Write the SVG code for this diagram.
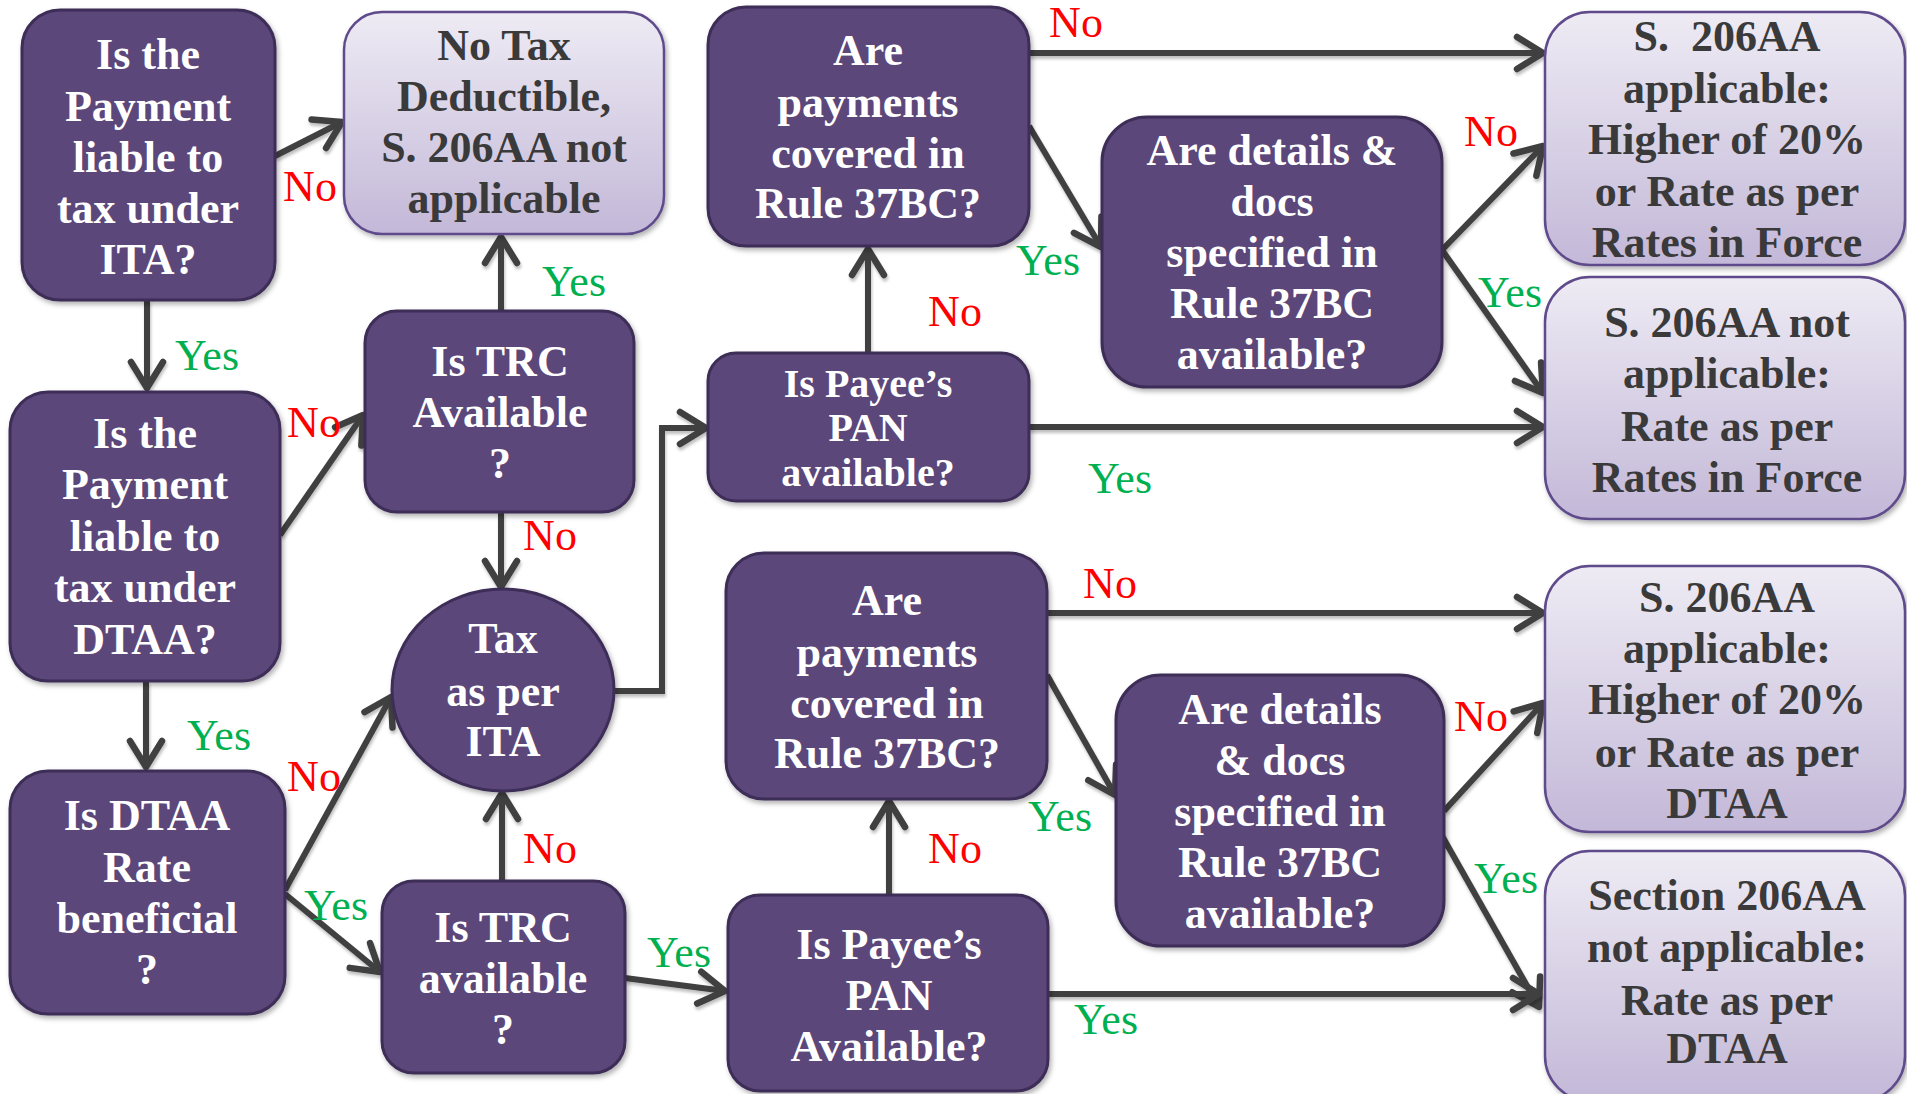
<svg xmlns="http://www.w3.org/2000/svg" width="1907" height="1094" viewBox="0 0 1907 1094">
<style>
.q rect, .q ellipse { fill:#5c477a; stroke:#3e2d58; stroke-width:3; filter:url(#sh); }
.t rect { fill:url(#lg); stroke:#5f4b8b; stroke-width:2.5; filter:url(#sh); }
.q text { fill:#ffffff; font-family:"Liberation Serif","DejaVu Serif",serif; font-weight:bold; font-size:44px; text-anchor:middle; dominant-baseline:central; }
.t text { fill:#3a3a3a; font-family:"Liberation Serif","DejaVu Serif",serif; font-weight:bold; font-size:44px; text-anchor:middle; dominant-baseline:central; }
.small text { font-size:40px; }
#connectors path { fill:none; stroke:#404040; stroke-width:6; stroke-linejoin:miter; marker-end:url(#ah); filter:url(#lsh); }
.no { fill:#ff0000; font-family:"Liberation Serif","DejaVu Serif",serif; font-size:44px; text-anchor:middle; dominant-baseline:central; }
.yes { fill:#00b050; font-family:"Liberation Serif","DejaVu Serif",serif; font-size:44px; text-anchor:middle; dominant-baseline:central; }
</style>
<defs>
<linearGradient id="lg" x1="0" y1="0" x2="0" y2="1">
<stop offset="0" stop-color="#eeebf4"/>
<stop offset="1" stop-color="#c3b8d8"/>
</linearGradient>
<filter id="sh" x="-10%" y="-10%" width="120%" height="120%">
<feDropShadow dx="2" dy="3" stdDeviation="2.5" flood-color="#000" flood-opacity="0.3"/>
</filter>
<filter id="lsh" x="-10%" y="-10%" width="120%" height="120%" filterUnits="userSpaceOnUse">
<feDropShadow dx="1" dy="3" stdDeviation="1.5" flood-color="#000" flood-opacity="0.25"/>
</filter>
<marker id="ah" markerUnits="userSpaceOnUse" viewBox="-34 -22 40 44" refX="0" refY="0" markerWidth="40" markerHeight="44" orient="auto">
<path d="M-26,-16 L0,0 L-26,16" fill="none" stroke="#404040" stroke-width="6.5" stroke-linecap="round" stroke-linejoin="round"/>
</marker>
</defs>
<rect width="1907" height="1094" fill="#ffffff"/>

<line x1="727" y1="533" x2="1907" y2="533" stroke="#5c477a" stroke-width="5" filter="url(#sh)"/>

<g id="connectors">
<path d="M275,156 L342,122"/>
<path d="M147,300 L147,388"/>
<path d="M280,535 L363,415"/>
<path d="M501,311 L501,237"/>
<path d="M501,512 L501,587"/>
<path d="M146,681 L146,767"/>
<path d="M285,890 L391,697"/>
<path d="M285,894 L380,972"/>
<path d="M502,881 L502,793"/>
<path d="M614,691 L662,691 L662,428 L706,428"/>
<path d="M625,978 L725,991"/>
<path d="M868,353 L868,249"/>
<path d="M1029,53 L1543,53"/>
<path d="M1029,126 L1101,247"/>
<path d="M1442,250 L1543,146"/>
<path d="M1442,250 L1543,393"/>
<path d="M1029,427 L1543,427"/>
<path d="M889,895 L889,801"/>
<path d="M1047,613 L1543,613"/>
<path d="M1047,675 L1115,795"/>
<path d="M1444,811 L1543,703"/>
<path d="M1441,834 L1539,1007"/>
<path d="M1048,994 L1539,994"/>
<text class="no" x="310" y="186">No</text>
<text class="yes" x="207" y="355">Yes</text>
<text class="no" x="314" y="422">No</text>
<text class="yes" x="574" y="281">Yes</text>
<text class="no" x="550" y="535">No</text>
<text class="yes" x="219" y="735">Yes</text>
<text class="no" x="314" y="776">No</text>
<text class="yes" x="336" y="905">Yes</text>
<text class="no" x="550" y="848">No</text>
<text class="yes" x="679" y="952">Yes</text>
<text class="no" x="955" y="311">No</text>
<text class="no" x="1076" y="22">No</text>
<text class="yes" x="1048" y="260">Yes</text>
<text class="no" x="1491" y="131">No</text>
<text class="yes" x="1510" y="292">Yes</text>
<text class="yes" x="1120" y="478">Yes</text>
<text class="no" x="955" y="848">No</text>
<text class="no" x="1110" y="583">No</text>
<text class="yes" x="1060" y="816">Yes</text>
<text class="no" x="1481" y="716">No</text>
<text class="yes" x="1506" y="878">Yes</text>
<text class="yes" x="1106" y="1019">Yes</text>
</g>

<g id="nodeA" class="q">
<rect x="22" y="10" width="253" height="290" rx="38"/>
<text x="148" y="54">Is the</text>
<text x="148" y="106">Payment</text>
<text x="148" y="157">liable to</text>
<text x="148" y="208">tax under</text>
<text x="148" y="259">ITA?</text>
</g>

<g id="nodeB" class="t">
<rect x="344" y="12" width="320" height="222" rx="38"/>
<text x="504" y="45">No Tax</text>
<text x="504" y="96">Deductible,</text>
<text x="504" y="147">S. 206AA not</text>
<text x="504" y="198">applicable</text>
</g>

<g id="nodeC" class="q">
<rect x="365" y="311" width="269" height="201" rx="32"/>
<text x="500" y="361">Is TRC</text>
<text x="500" y="412">Available</text>
<text x="500" y="463">?</text>
</g>

<g id="nodeD" class="q">
<rect x="10" y="392" width="270" height="289" rx="38"/>
<text x="145" y="433">Is the</text>
<text x="145" y="484">Payment</text>
<text x="145" y="536">liable to</text>
<text x="145" y="587">tax under</text>
<text x="145" y="639">DTAA?</text>
</g>

<g id="nodeE" class="q">
<rect x="10" y="771" width="275" height="243" rx="38"/>
<text x="147" y="815">Is DTAA</text>
<text x="147" y="867">Rate</text>
<text x="147" y="918">beneficial</text>
<text x="147" y="969">?</text>
</g>

<g id="nodeF" class="q">
<ellipse cx="503" cy="690" rx="111" ry="101"/>
<text x="503" y="638">Tax</text>
<text x="503" y="691">as per</text>
<text x="503" y="741">ITA</text>
</g>

<g id="nodeG" class="q">
<rect x="382" y="881" width="243" height="192" rx="32"/>
<text x="503" y="927">Is TRC</text>
<text x="503" y="978">available</text>
<text x="503" y="1029">?</text>
</g>

<g id="nodeH" class="q">
<rect x="708" y="7" width="321" height="239" rx="38"/>
<text x="868" y="50">Are</text>
<text x="868" y="102">payments</text>
<text x="868" y="153">covered in</text>
<text x="868" y="203">Rule 37BC?</text>
</g>

<g id="nodeI" class="q small">
<rect x="708" y="353" width="321" height="148" rx="28"/>
<text x="868" y="383">Is Payee’s</text>
<text x="868" y="427">PAN</text>
<text x="868" y="472">available?</text>
</g>

<g id="nodeJ" class="q">
<rect x="1102" y="117" width="340" height="270" rx="45"/>
<text x="1272" y="150">Are details &amp;</text>
<text x="1272" y="201">docs</text>
<text x="1272" y="252">specified in</text>
<text x="1272" y="303">Rule 37BC</text>
<text x="1272" y="354">available?</text>
</g>

<g id="nodeK" class="t">
<rect x="1545" y="12" width="360" height="253" rx="45"/>
<text x="1727" y="36">S.&#160; 206AA</text>
<text x="1727" y="88">applicable:</text>
<text x="1727" y="139">Higher of 20%</text>
<text x="1727" y="191">or Rate as per</text>
<text x="1727" y="242">Rates in Force</text>
</g>

<g id="nodeL" class="t">
<rect x="1545" y="277" width="360" height="242" rx="45"/>
<text x="1727" y="322">S. 206AA not</text>
<text x="1727" y="373">applicable:</text>
<text x="1727" y="426">Rate as per</text>
<text x="1727" y="477">Rates in Force</text>
</g>

<g id="nodeM" class="q">
<rect x="726" y="553" width="321" height="246" rx="38"/>
<text x="887" y="600">Are</text>
<text x="887" y="652">payments</text>
<text x="887" y="703">covered in</text>
<text x="887" y="753">Rule 37BC?</text>
</g>

<g id="nodeN" class="q">
<rect x="728" y="895" width="320" height="196" rx="32"/>
<text x="889" y="944">Is Payee’s</text>
<text x="889" y="995">PAN</text>
<text x="889" y="1046">Available?</text>
</g>

<g id="nodeO" class="q">
<rect x="1116" y="675" width="328" height="271" rx="45"/>
<text x="1280" y="709">Are details</text>
<text x="1280" y="760">&amp; docs</text>
<text x="1280" y="811">specified in</text>
<text x="1280" y="862">Rule 37BC</text>
<text x="1280" y="913">available?</text>
</g>

<g id="nodeP" class="t">
<rect x="1545" y="566" width="360" height="266" rx="45"/>
<text x="1727" y="597">S. 206AA</text>
<text x="1727" y="648">applicable:</text>
<text x="1727" y="699">Higher of 20%</text>
<text x="1727" y="752">or Rate as per</text>
<text x="1727" y="803">DTAA</text>
</g>

<g id="nodeQ" class="t">
<rect x="1545" y="851" width="360" height="250" rx="45"/>
<text x="1727" y="895">Section 206AA</text>
<text x="1727" y="947">not applicable:</text>
<text x="1727" y="1000">Rate as per</text>
<text x="1727" y="1048">DTAA</text>
</g>
</svg>
